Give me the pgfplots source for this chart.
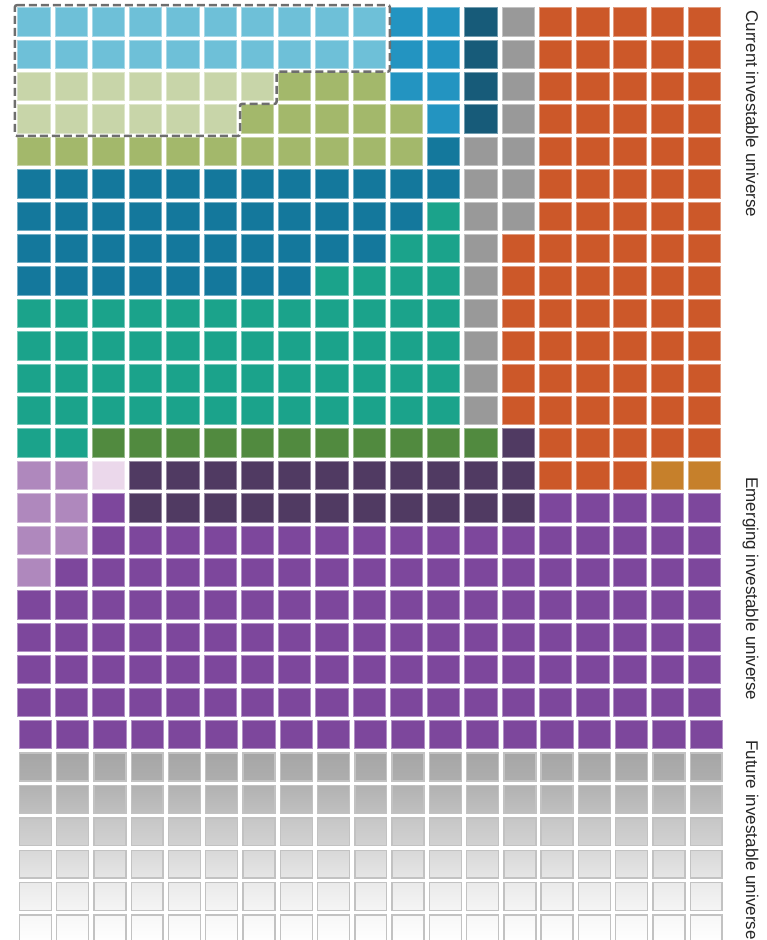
\documentclass[border=0pt]{standalone}
\usepackage{fontspec}
\setmainfont{Liberation Sans}
\usepackage{pgfplots}
\pgfplotsset{compat=1.18}
\usepackage{xcolor}
\definecolor{LB}{HTML}{6EC0D8}
\definecolor{MB}{HTML}{2394C1}
\definecolor{DB}{HTML}{175B79}
\definecolor{BL}{HTML}{14789C}
\definecolor{TL}{HTML}{1BA38B}
\definecolor{GY}{HTML}{999999}
\definecolor{OR}{HTML}{CC5829}
\definecolor{OC}{HTML}{C6802B}
\definecolor{PG}{HTML}{C8D5A9}
\definecolor{GR}{HTML}{A3B86B}
\definecolor{DG}{HTML}{518A3F}
\definecolor{DP}{HTML}{503A62}
\definecolor{LP}{HTML}{AF88BD}
\definecolor{PK}{HTML}{EBD8EB}
\definecolor{PU}{HTML}{7D479C}
\definecolor{gline}{HTML}{C2C2C2}
\definecolor{dashc}{HTML}{6E6E6E}
\definecolor{g23a}{HTML}{A6A6A6}\definecolor{g23b}{HTML}{AEAEAE}
\definecolor{g24a}{HTML}{B2B2B2}\definecolor{g24b}{HTML}{C0C0C0}
\definecolor{g25a}{HTML}{C6C6C6}\definecolor{g25b}{HTML}{D2D2D2}
\definecolor{g26a}{HTML}{D8D8D8}\definecolor{g26b}{HTML}{E6E6E6}
\definecolor{g27a}{HTML}{EAEAEA}\definecolor{g27b}{HTML}{F5F5F5}
\definecolor{g28a}{HTML}{F7F7F7}\definecolor{g28b}{HTML}{FFFFFF}

% one waffle cell = 33.3 x 29.3 px with its outline
\pgfdeclareplotmark{cell}{%
  \pgfpathrectangle{\pgfpoint{-16.15pt}{-14.15pt}}{\pgfpoint{32.3pt}{28.3pt}}%
  \pgfusepath{fill,stroke}}
\tikzset{gtop/.store in=\gtop, gbot/.store in=\gbot, gtop=white, gbot=white}
\pgfdeclareplotmark{gcell}{%
  \path[top color=\gtop, bottom color=\gbot, draw=gline, line width=1.4pt]
    (-15.95pt,-13.95pt) rectangle (15.95pt,13.95pt);}
\pgfplotsset{
  cells/.style={only marks, mark=cell, mark options={fill=#1, draw=#1!60!white, line width=1pt, solid}},
  gcells/.style 2 args={only marks, mark=gcell, mark options={gtop=#1, gbot=#2, solid}},
}

\begin{document}
\begin{tikzpicture}
\useasboundingbox (0,0) rectangle (767pt,940pt);
\begin{axis}[at={(0,0)}, anchor=south west, scale only axis,
  width=723.3pt, height=940pt, hide axis,
  xmin=-0.911, xmax=18.5, ymin=-28.34, ymax=0.678,
  clip=true, clip marker paths=true]

% current investable universe
\addplot[cells=LB] coordinates {(0,0)(1,0)(2,0)(3,0)(4,0)(5,0)(6,0)(7,0)(8,0)(9,0)
  (0,-1)(1,-1)(2,-1)(3,-1)(4,-1)(5,-1)(6,-1)(7,-1)(8,-1)(9,-1)};
\addplot[cells=PG] coordinates {(0,-2)(1,-2)(2,-2)(3,-2)(4,-2)(5,-2)(6,-2)
  (0,-3)(1,-3)(2,-3)(3,-3)(4,-3)(5,-3)};
\addplot[cells=GR] coordinates {(7,-2)(8,-2)(9,-2)
  (6,-3)(7,-3)(8,-3)(9,-3)(10,-3)
  (0,-4)(1,-4)(2,-4)(3,-4)(4,-4)(5,-4)(6,-4)(7,-4)(8,-4)(9,-4)(10,-4)};
\addplot[cells=MB] coordinates {(10,0)(11,0)(10,-1)(11,-1)(10,-2)(11,-2)(11,-3)};
\addplot[cells=DB] coordinates {(12,0)(12,-1)(12,-2)(12,-3)};
\addplot[cells=BL] coordinates {(11,-4)
  (0,-5)(1,-5)(2,-5)(3,-5)(4,-5)(5,-5)(6,-5)(7,-5)(8,-5)(9,-5)(10,-5)(11,-5)
  (0,-6)(1,-6)(2,-6)(3,-6)(4,-6)(5,-6)(6,-6)(7,-6)(8,-6)(9,-6)(10,-6)
  (0,-7)(1,-7)(2,-7)(3,-7)(4,-7)(5,-7)(6,-7)(7,-7)(8,-7)(9,-7)
  (0,-8)(1,-8)(2,-8)(3,-8)(4,-8)(5,-8)(6,-8)(7,-8)};
\addplot[cells=TL] coordinates {(11,-6)(10,-7)(11,-7)(8,-8)(9,-8)(10,-8)(11,-8)
  (0,-9)(1,-9)(2,-9)(3,-9)(4,-9)(5,-9)(6,-9)(7,-9)(8,-9)(9,-9)(10,-9)(11,-9)
  (0,-10)(1,-10)(2,-10)(3,-10)(4,-10)(5,-10)(6,-10)(7,-10)(8,-10)(9,-10)(10,-10)(11,-10)
  (0,-11)(1,-11)(2,-11)(3,-11)(4,-11)(5,-11)(6,-11)(7,-11)(8,-11)(9,-11)(10,-11)(11,-11)
  (0,-12)(1,-12)(2,-12)(3,-12)(4,-12)(5,-12)(6,-12)(7,-12)(8,-12)(9,-12)(10,-12)(11,-12)
  (0,-13)(1,-13)};
\addplot[cells=GY] coordinates {(13,0)(13,-1)(13,-2)(13,-3)
  (12,-4)(13,-4)(12,-5)(13,-5)(12,-6)(13,-6)
  (12,-7)(12,-8)(12,-9)(12,-10)(12,-11)(12,-12)};
\addplot[cells=OR] coordinates {
  (14,0)(15,0)(16,0)(17,0)(18,0)
  (14,-1)(15,-1)(16,-1)(17,-1)(18,-1)
  (14,-2)(15,-2)(16,-2)(17,-2)(18,-2)
  (14,-3)(15,-3)(16,-3)(17,-3)(18,-3)
  (14,-4)(15,-4)(16,-4)(17,-4)(18,-4)
  (14,-5)(15,-5)(16,-5)(17,-5)(18,-5)
  (14,-6)(15,-6)(16,-6)(17,-6)(18,-6)
  (13,-7)(14,-7)(15,-7)(16,-7)(17,-7)(18,-7)
  (13,-8)(14,-8)(15,-8)(16,-8)(17,-8)(18,-8)
  (13,-9)(14,-9)(15,-9)(16,-9)(17,-9)(18,-9)
  (13,-10)(14,-10)(15,-10)(16,-10)(17,-10)(18,-10)
  (13,-11)(14,-11)(15,-11)(16,-11)(17,-11)(18,-11)
  (13,-12)(14,-12)(15,-12)(16,-12)(17,-12)(18,-12)
  (14,-13)(15,-13)(16,-13)(17,-13)(18,-13)
  (14,-14)(15,-14)(16,-14)};
\addplot[cells=OC] coordinates {(17,-14)(18,-14)};
\addplot[cells=DG] coordinates {(2,-13)(3,-13)(4,-13)(5,-13)(6,-13)(7,-13)(8,-13)(9,-13)(10,-13)(11,-13)(12,-13)};

% emerging investable universe
\addplot[cells=DP] coordinates {(13,-13)
  (3,-14)(4,-14)(5,-14)(6,-14)(7,-14)(8,-14)(9,-14)(10,-14)(11,-14)(12,-14)(13,-14)
  (3,-15)(4,-15)(5,-15)(6,-15)(7,-15)(8,-15)(9,-15)(10,-15)(11,-15)(12,-15)(13,-15)};
\addplot[cells=LP] coordinates {(0,-14)(1,-14)(0,-15)(1,-15)(0,-16)(1,-16)(0,-17)};
\addplot[cells=PK] coordinates {(2,-14)};
\addplot[cells=PU] coordinates {(2,-15)(14,-15)(15,-15)(16,-15)(17,-15)(18,-15)
  (2,-16)(3,-16)(4,-16)(5,-16)(6,-16)(7,-16)(8,-16)(9,-16)(10,-16)(11,-16)(12,-16)(13,-16)(14,-16)(15,-16)(16,-16)(17,-16)(18,-16)
  (1,-17)(2,-17)(3,-17)(4,-17)(5,-17)(6,-17)(7,-17)(8,-17)(9,-17)(10,-17)(11,-17)(12,-17)(13,-17)(14,-17)(15,-17)(16,-17)(17,-17)(18,-17)
  (0,-18)(1,-18)(2,-18)(3,-18)(4,-18)(5,-18)(6,-18)(7,-18)(8,-18)(9,-18)(10,-18)(11,-18)(12,-18)(13,-18)(14,-18)(15,-18)(16,-18)(17,-18)(18,-18)
  (0,-19)(1,-19)(2,-19)(3,-19)(4,-19)(5,-19)(6,-19)(7,-19)(8,-19)(9,-19)(10,-19)(11,-19)(12,-19)(13,-19)(14,-19)(15,-19)(16,-19)(17,-19)(18,-19)
  (0,-20)(1,-20)(2,-20)(3,-20)(4,-20)(5,-20)(6,-20)(7,-20)(8,-20)(9,-20)(10,-20)(11,-20)(12,-20)(13,-20)(14,-20)(15,-20)(16,-20)(17,-20)(18,-20)
  (0,-21)(1,-21)(2,-21)(3,-21)(4,-21)(5,-21)(6,-21)(7,-21)(8,-21)(9,-21)(10,-21)(11,-21)(12,-21)(13,-21)(14,-21)(15,-21)(16,-21)(17,-21)(18,-21)
  (0.04,-22)(1.04,-22)(2.04,-22)(3.04,-22)(4.04,-22)(5.04,-22)(6.04,-22)(7.04,-22)(8.04,-22)(9.04,-22)(10.04,-22)(11.04,-22)(12.04,-22)(13.04,-22)(14.04,-22)(15.04,-22)(16.04,-22)(17.04,-22)(18.04,-22)};

% future investable universe
\addplot[gcells={g23a}{g23b}] coordinates {(0.04,-23)(1.04,-23)(2.04,-23)(3.04,-23)(4.04,-23)(5.04,-23)(6.04,-23)(7.04,-23)(8.04,-23)(9.04,-23)(10.04,-23)(11.04,-23)(12.04,-23)(13.04,-23)(14.04,-23)(15.04,-23)(16.04,-23)(17.04,-23)(18.04,-23)};
\addplot[gcells={g24a}{g24b}] coordinates {(0.04,-24)(1.04,-24)(2.04,-24)(3.04,-24)(4.04,-24)(5.04,-24)(6.04,-24)(7.04,-24)(8.04,-24)(9.04,-24)(10.04,-24)(11.04,-24)(12.04,-24)(13.04,-24)(14.04,-24)(15.04,-24)(16.04,-24)(17.04,-24)(18.04,-24)};
\addplot[gcells={g25a}{g25b}] coordinates {(0.04,-25)(1.04,-25)(2.04,-25)(3.04,-25)(4.04,-25)(5.04,-25)(6.04,-25)(7.04,-25)(8.04,-25)(9.04,-25)(10.04,-25)(11.04,-25)(12.04,-25)(13.04,-25)(14.04,-25)(15.04,-25)(16.04,-25)(17.04,-25)(18.04,-25)};
\addplot[gcells={g26a}{g26b}] coordinates {(0.04,-26)(1.04,-26)(2.04,-26)(3.04,-26)(4.04,-26)(5.04,-26)(6.04,-26)(7.04,-26)(8.04,-26)(9.04,-26)(10.04,-26)(11.04,-26)(12.04,-26)(13.04,-26)(14.04,-26)(15.04,-26)(16.04,-26)(17.04,-26)(18.04,-26)};
\addplot[gcells={g27a}{g27b}] coordinates {(0.04,-27)(1.04,-27)(2.04,-27)(3.04,-27)(4.04,-27)(5.04,-27)(6.04,-27)(7.04,-27)(8.04,-27)(9.04,-27)(10.04,-27)(11.04,-27)(12.04,-27)(13.04,-27)(14.04,-27)(15.04,-27)(16.04,-27)(17.04,-27)(18.04,-27)};
\addplot[gcells={g28a}{g28b}] coordinates {(0.04,-28)(1.04,-28)(2.04,-28)(3.04,-28)(4.04,-28)(5.04,-28)(6.04,-28)(7.04,-28)(8.04,-28)(9.04,-28)(10.04,-28)(11.04,-28)(12.04,-28)(13.04,-28)(14.04,-28)(15.04,-28)(16.04,-28)(17.04,-28)(18.04,-28)};

% dashed outline round the light blue and pale green cells
\addplot[draw=dashc, line width=2.5pt, dash pattern=on 8pt off 4pt, rounded corners=2pt, mark=none]
  coordinates {(-0.51,0.52)(9.55,0.52)(9.55,-1.535)(6.51,-1.535)(6.51,-2.53)(5.53,-2.53)(5.53,-3.52)(-0.51,-3.52)} -- cycle;
\end{axis}
\begin{scope}[every node/.style={rotate=-90, anchor=base, inner sep=0pt, font=\fontsize{17}{20}\selectfont, text=black!85}]
\node at (746pt,826pt) {Current investable universe};
\node at (746pt,351pt) {Emerging investable universe};
\node at (746pt,100pt) {Future investable universe};
\end{scope}
\end{tikzpicture}
\end{document}
